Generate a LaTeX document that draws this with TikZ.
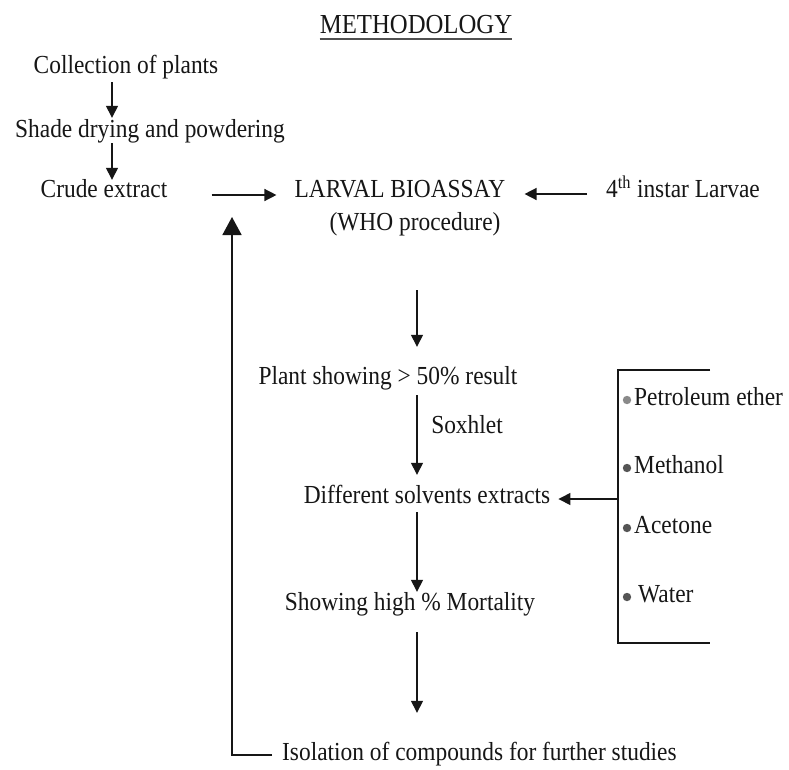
\documentclass[tikz,border=0pt]{standalone}
\usepackage{fontspec}
\setmainfont{Liberation Serif}[FakeStretch=0.9]
\usetikzlibrary{arrows.meta}
\definecolor{ink}{HTML}{161616}
\definecolor{dotlight}{HTML}{8A8A8A}
\definecolor{dotdark}{HTML}{555555}
\begin{document}
\begin{tikzpicture}[x=1pt,y=-1pt,
  txt/.style={inner sep=0pt, text height=16pt, text depth=5pt,
    font=\fontsize{26}{30}\selectfont, text=ink},
  ttl/.style={inner sep=0pt, text height=18pt, text depth=6pt,
    font=\fontsize{27.5}{32}\selectfont, text=ink},
  arr/.style={draw=ink, line width=1.4pt, -{Triangle[width=12pt,length=12pt]}},
  bigarr/.style={draw=ink, line width=1.7pt, -{Triangle[width=19pt,length=18pt]}},
  plain/.style={draw=ink, line width=1.7pt}]
\useasboundingbox (0,0) rectangle (789,769);
\fill[white] (0,0) rectangle (789,769);

% title
\node[ttl] (title) at (416,27) {METHODOLOGY};
\draw[draw=ink!75, line width=1.8pt] (title.south west) -- (title.south east);

% column reference coordinates
\coordinate (colL) at (112,0);
\coordinate (colM) at (417,0);

% left chain
\node[txt] (coll) at (126,68) {Collection of plants};
\node[txt] (shade) at (150,132) {Shade drying and powdering};
\node[txt] (crude) at (104,192) {Crude extract};
\draw[arr, shorten <=3.5pt, shorten >=3.5pt] (coll.south -| colL) -- (shade.north -| colL);
\draw[arr, shorten <=0.5pt, shorten >=1.5pt] (shade.south -| colL) -- (crude.north -| colL);

% bioassay row
\node[txt] (larval) at (400,192) {LARVAL BIOASSAY};
\node[txt] (who) at (415,225) {(WHO procedure)};
\node[txt] (instar) at (683,192) {4\textsuperscript{th} instar Larvae};
\draw[arr, shorten <=44pt, shorten >=18pt] ([yshift=-3pt]crude.east) -- ([yshift=-3pt]larval.west);
\draw[arr, shorten <=19pt, shorten >=19pt] ([yshift=-2pt]instar.west) -- ([yshift=-2pt]larval.east);

% middle chain
\node[txt] (plant) at (388,379) {Plant showing > 50\% result};
\node[txt] (soxh) at (467,428) {Soxhlet};
\node[txt] (diff) at (427,498) {Different solvents extracts};
\node[txt] (show) at (410,605) {Showing high \% Mortality};
\node[txt, anchor=west] (iso) at (282,755) {Isolation of compounds for further studies};

\draw[arr, shorten <=54.5pt, shorten >=21.5pt] (who.south -| colM) -- (plant.north -| colM);
\draw[arr, shorten <=5.5pt, shorten >=12.5pt] (plant.south -| colM) -- (diff.north -| colM);
\draw[arr, shorten <=3.5pt, shorten >=2.5pt] (diff.south -| colM) -- (show.north -| colM);
\draw[arr, shorten <=16.5pt, shorten >=31.5pt] (show.south -| colM) -- (iso.north -| colM);

% feedback loop
\coordinate (fb) at (232,217);
\draw[bigarr, shorten <=10pt] (iso.west) -| (fb);

% solvents bracket
\draw[plain] (710,370) -- (618,370) -- (618,643) -- (710,643);
\coordinate (brk) at (618,499);
\draw[arr, shorten >=8pt] (brk) -- (brk -| diff.east);

\fill[dotlight] (627,400) circle (4.2pt);
\fill[dotdark] (627,468) circle (4.2pt);
\fill[dotdark] (627,528) circle (4.2pt);
\fill[dotdark] (627,597) circle (4.2pt);
\node[txt, anchor=west] (pet) at (634,400) {Petroleum ether};
\node[txt, anchor=west] (meth) at (634,468) {Methanol};
\node[txt, anchor=west] (acet) at (634,528) {Acetone};
\node[txt, anchor=west] (wat) at (638,597) {Water};
\end{tikzpicture}
\end{document}
